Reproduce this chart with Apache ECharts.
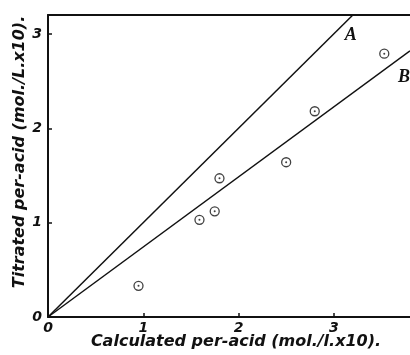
<!DOCTYPE html>
<html>
<head>
<meta charset="utf-8">
<script src="https://cdn.jsdelivr.net/npm/echarts@6/dist/echarts.min.js"></script>
<style>
  html, body { margin: 0; padding: 0; background: #fff; }
  #chart { width: 410px; height: 355px; }
</style>
</head>
<body>
<div id="chart"></div>
<script>
// measured points: calculated vs titrated per-acid
const calcX = [0.95, 1.59, 1.75, 1.80, 2.50, 2.80, 3.53]
const titrY = [0.33, 1.03, 1.12, 1.47, 1.64, 2.18, 2.79]
// reference lines
const lineA = [[0, 0], [3.2, 3.2]]
const lineB = [[0, 0], [3.8, 2.82]]
const xTicks = [0, 1, 2, 3]
const yTicks = [0, 1, 2, 3]

const points = calcX.map((x, i) => [x, titrY[i]])

const chart = echarts.init(document.getElementById('chart'))
const ink = '#111'
const tickFont = { color: ink, fontFamily: 'DejaVu Sans', fontStyle: 'italic', fontWeight: 'bold', fontSize: 14 }
const nameFont = { color: ink, fontFamily: 'DejaVu Sans', fontStyle: 'italic', fontWeight: 'bold', fontSize: 16 }
const letterFont = { color: ink, fontFamily: 'Liberation Serif', fontStyle: 'italic', fontWeight: 'bold', fontSize: 18 }

const option = {
  animation: false,
  grid: { left: 48, top: 15, right: 0, bottom: 38, outerBoundsMode: 'none', containLabel: false },
  xAxis: [
    {
      type: 'value',
      min: 0,
      max: 3.8,
      interval: 1,
      name: 'Calculated per-acid (mol./l.x10).',
      nameLocation: 'middle',
      nameGap: 17,
      nameMoveOverlap: false,
      nameTextStyle: { ...nameFont, padding: [0, 0, 0, 14] },
      axisLine: { lineStyle: { color: ink, width: 2 } },
      axisTick: { inside: true, length: 4, lineStyle: { color: ink, width: 1.5 } },
      axisLabel: {
        ...tickFont,
        margin: 4,
        showMaxLabel: false,
        formatter: v => (xTicks.includes(v) ? String(v) : '')
      },
      splitLine: { show: false }
    },
    {
      type: 'value',
      position: 'top',
      min: 0,
      max: 3.8,
      axisLine: { show: true, lineStyle: { color: ink, width: 2 } },
      axisTick: { show: false },
      axisLabel: { show: false },
      splitLine: { show: false }
    }
  ],
  yAxis: {
    type: 'value',
    min: 0,
    max: 3.2,
    interval: 1,
    name: 'Titrated per-acid (mol./L.x10).',
    nameLocation: 'middle',
    nameGap: 20,
    nameMoveOverlap: false,
    nameRotate: 90,
    nameTextStyle: { ...nameFont, padding: [0, 0, 0, 28] },
    axisLine: { lineStyle: { color: ink, width: 2 } },
    axisTick: { inside: true, length: 4, lineStyle: { color: ink, width: 1.5 } },
    axisLabel: {
      ...tickFont,
      margin: 6,
      showMaxLabel: false,
      formatter: v => (yTicks.includes(v) ? String(v) : '')
    },
    splitLine: { show: false }
  },
  series: [
    {
      type: 'line',
      data: lineA,
      symbol: 'none',
      lineStyle: { color: ink, width: 1.5 },
      endLabel: { show: true, formatter: 'A', ...letterFont, offset: [-16, 20] }
    },
    {
      type: 'line',
      data: lineB,
      symbol: 'none',
      lineStyle: { color: ink, width: 1.5 },
      endLabel: { show: true, formatter: 'B', ...letterFont, offset: [-20, 26] }
    },
    {
      type: 'scatter',
      data: points,
      symbol: 'circle',
      symbolSize: 9,
      itemStyle: { color: '#fff', borderColor: ink, borderWidth: 1.3 }
    },
    {
      type: 'scatter',
      data: points,
      symbol: 'circle',
      symbolSize: 2,
      itemStyle: { color: ink }
    }
  ]
}
chart.setOption(option)
</script>
</body>
</html>
